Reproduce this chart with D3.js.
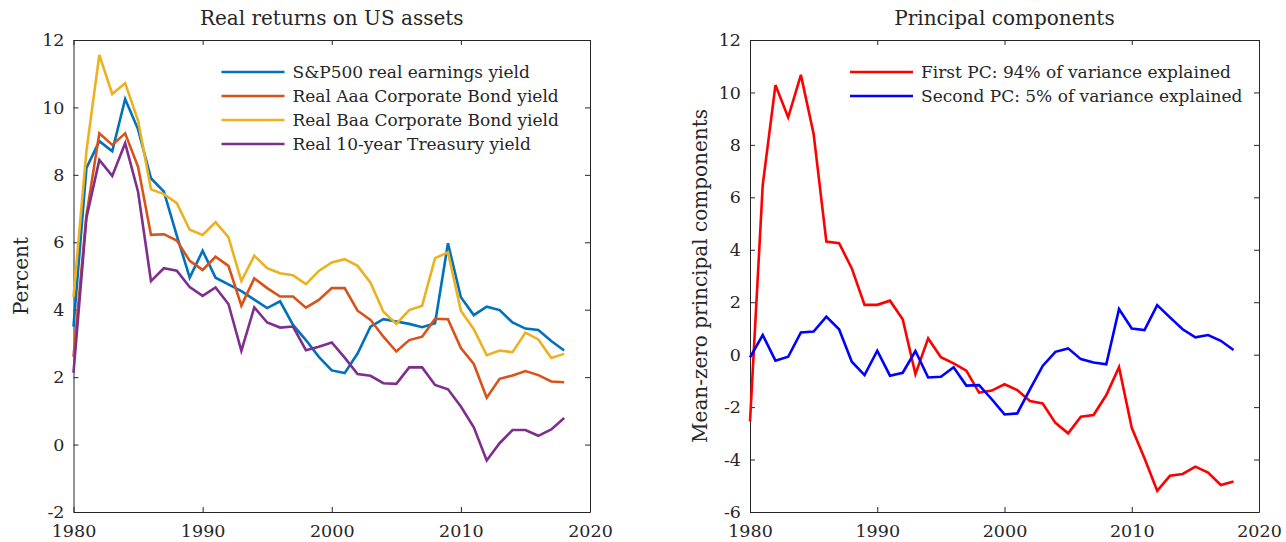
<!DOCTYPE html>
<html>
<head>
<meta charset="utf-8">
<script src="https://cdn.jsdelivr.net/npm/d3@7"></script>
<style>
  body { margin: 0; background: #fff; }
  text { font-family: "DejaVu Serif", serif; fill: #262626; }
</style>
</head>
<body>
<div id="chart"></div>
<script>
// years on the x axis
var years = [1980, 1981, 1982, 1983, 1984, 1985, 1986, 1987, 1988, 1989,
  1990, 1991, 1992, 1993, 1994, 1995, 1996, 1997, 1998, 1999,
  2000, 2001, 2002, 2003, 2004, 2005, 2006, 2007, 2008, 2009,
  2010, 2011, 2012, 2013, 2014, 2015, 2016, 2017, 2018];

// left panel: real returns (percent)
var spEarnings = [3.5, 8.2, 9.0, 8.7, 10.25, 9.35, 7.9, 7.5, 6.2, 4.95,
  5.75, 4.95, 4.75, 4.55, 4.3, 4.05, 4.25, 3.55, 3.1, 2.6,
  2.2, 2.12, 2.7, 3.5, 3.72, 3.65, 3.58, 3.48, 3.6, 5.97,
  4.37, 3.84, 4.09, 3.99, 3.62, 3.44, 3.4, 3.07, 2.79];
var aaaYield = [2.6, 6.8, 9.23, 8.89, 9.23, 8.24, 6.22, 6.24, 6.05, 5.45,
  5.18, 5.57, 5.3, 4.12, 4.93, 4.64, 4.39, 4.39, 4.06, 4.29,
  4.64, 4.64, 3.97, 3.7, 3.2, 2.76, 3.1, 3.2, 3.73, 3.72,
  2.86, 2.39, 1.39, 1.95, 2.05, 2.18, 2.06, 1.87, 1.85];
var baaYield = [4.38, 8.7, 11.56, 10.4, 10.72, 9.61, 7.57, 7.43, 7.16, 6.37,
  6.22, 6.6, 6.15, 4.85, 5.6, 5.23, 5.08, 5.02, 4.76, 5.15,
  5.4, 5.5, 5.3, 4.8, 3.94, 3.58, 3.99, 4.12, 5.53, 5.7,
  3.97, 3.42, 2.65, 2.79, 2.74, 3.32, 3.12, 2.57, 2.69];
var tenYear = [2.13, 6.72, 8.44, 7.97, 8.94, 7.5, 4.85, 5.23, 5.16, 4.67,
  4.41, 4.66, 4.17, 2.78, 4.07, 3.62, 3.47, 3.5, 2.8, 2.9,
  3.03, 2.58, 2.09, 2.04, 1.82, 1.8, 2.29, 2.29, 1.77, 1.64,
  1.13, 0.51, -0.47, 0.04, 0.43, 0.43, 0.26, 0.45, 0.79];

// right panel: principal components
var pc1 = [-2.55, 6.47, 10.28, 9.05, 10.67, 8.42, 4.31, 4.25, 3.29, 1.9,
  1.9, 2.06, 1.35, -0.74, 0.62, -0.1, -0.33, -0.61, -1.45, -1.37,
  -1.13, -1.35, -1.77, -1.86, -2.6, -3.0, -2.37, -2.3, -1.54, -0.48,
  -2.79, -3.95, -5.19, -4.62, -4.55, -4.27, -4.5, -4.97, -4.84];
var pc2 = [-0.1, 0.75, -0.23, -0.08, 0.85, 0.88, 1.45, 0.97, -0.27, -0.78,
  0.15, -0.8, -0.69, 0.14, -0.87, -0.84, -0.48, -1.18, -1.16, -1.7,
  -2.28, -2.24, -1.32, -0.43, 0.11, 0.24, -0.17, -0.3, -0.37, 1.74,
  1.0, 0.94, 1.89, 1.42, 0.97, 0.66, 0.75, 0.53, 0.18];

var xTicks = [1980, 1990, 2000, 2010, 2020];
var leftYTicks = [-2, 0, 2, 4, 6, 8, 10, 12];
var rightYTicks = [-6, -4, -2, 0, 2, 4, 6, 8, 10, 12];

var svg = d3.select("#chart").append("svg")
  .attr("width", 1286)
  .attr("height", 542);

function drawPanel(opt) {
  var g = svg.append("g")
    .attr("transform", `translate(${opt.left}, ${opt.top})`);
  var width = opt.width, height = opt.height;

  var x = d3.scaleLinear().domain([1980, 2020]).range([0, width]);
  var y = d3.scaleLinear().domain(opt.yDomain).range([height, 0]);

  // box with inward ticks on every side
  var axes = [
    { a: d3.axisBottom(x).tickValues(xTicks).tickFormat(d3.format("d")), t: `translate(0,${height})`, pad: 13 },
    { a: d3.axisTop(x).tickValues(xTicks).tickFormat(""), t: "translate(0,0)", pad: 9 },
    { a: d3.axisLeft(y).tickValues(opt.yTicks).tickFormat(d => d < 0 ? "-" + Math.abs(d) : d), t: "translate(0,0)", pad: 9 },
    { a: d3.axisRight(y).tickValues(opt.yTicks).tickFormat(""), t: `translate(${width},0)`, pad: 9 }
  ];
  axes.forEach(function(ax) {
    var ag = g.append("g").attr("transform", ax.t)
      .call(ax.a.tickSizeInner(-5).tickSizeOuter(0).tickPadding(ax.pad));
    ag.select(".domain").attr("stroke", "#262626").attr("stroke-width", 1);
    ag.selectAll(".tick line").attr("stroke", "#262626");
    ag.selectAll("text").attr("font-family", "DejaVu Serif").attr("font-size", 17.5).attr("fill", "#262626");
  });

  var line = d3.line()
    .x((d, i) => x(years[i]))
    .y(d => y(d));

  opt.series.forEach(function(s) {
    g.append("path")
      .datum(s.values)
      .attr("fill", "none")
      .attr("stroke", s.color)
      .attr("stroke-width", 2.6)
      .attr("stroke-linejoin", "miter")
      .attr("d", line);
  });

  // title
  g.append("text")
    .attr("x", width / 2)
    .attr("y", -15)
    .attr("text-anchor", "middle")
    .attr("font-size", 20)
    .text(opt.title);

  // y label
  g.append("text")
    .attr("transform", `translate(${opt.yLabelX}, ${height / 2}) rotate(-90)`)
    .attr("text-anchor", "middle")
    .attr("font-size", 20)
    .text(opt.yLabel);

  // legend, no box
  var leg = g.append("g").attr("transform", `translate(${opt.legendX}, 32)`);
  opt.series.forEach(function(s, i) {
    var row = leg.append("g").attr("transform", `translate(0, ${i * 24})`);
    row.append("line")
      .attr("x1", 0).attr("x2", 63)
      .attr("stroke", s.color)
      .attr("stroke-width", 2.6);
    row.append("text")
      .attr("x", 71)
      .attr("dy", "0.35em")
      .attr("font-size", 17)
      .text(s.name);
  });
}

drawPanel({
  left: 73.5, top: 40, width: 516.5, height: 472,
  yDomain: [-2, 12], yTicks: leftYTicks,
  title: "Real returns on US assets",
  yLabel: "Percent", yLabelX: -46,
  legendX: 148,
  series: [
    { name: "S&P500 real earnings yield", values: spEarnings, color: "#0072BD" },
    { name: "Real Aaa Corporate Bond yield", values: aaaYield, color: "#D95319" },
    { name: "Real Baa Corporate Bond yield", values: baaYield, color: "#EDB120" },
    { name: "Real 10-year Treasury yield", values: tenYear, color: "#7E2F8E" }
  ]
});

drawPanel({
  left: 750, top: 40, width: 509, height: 472,
  yDomain: [-6, 12], yTicks: rightYTicks,
  title: "Principal components",
  yLabel: "Mean-zero principal components", yLabelX: -43,
  legendX: 100,
  series: [
    { name: "First PC: 94% of variance explained", values: pc1, color: "#FF0000" },
    { name: "Second PC: 5% of variance explained", values: pc2, color: "#0000FF" }
  ]
});
</script>
</body>
</html>
